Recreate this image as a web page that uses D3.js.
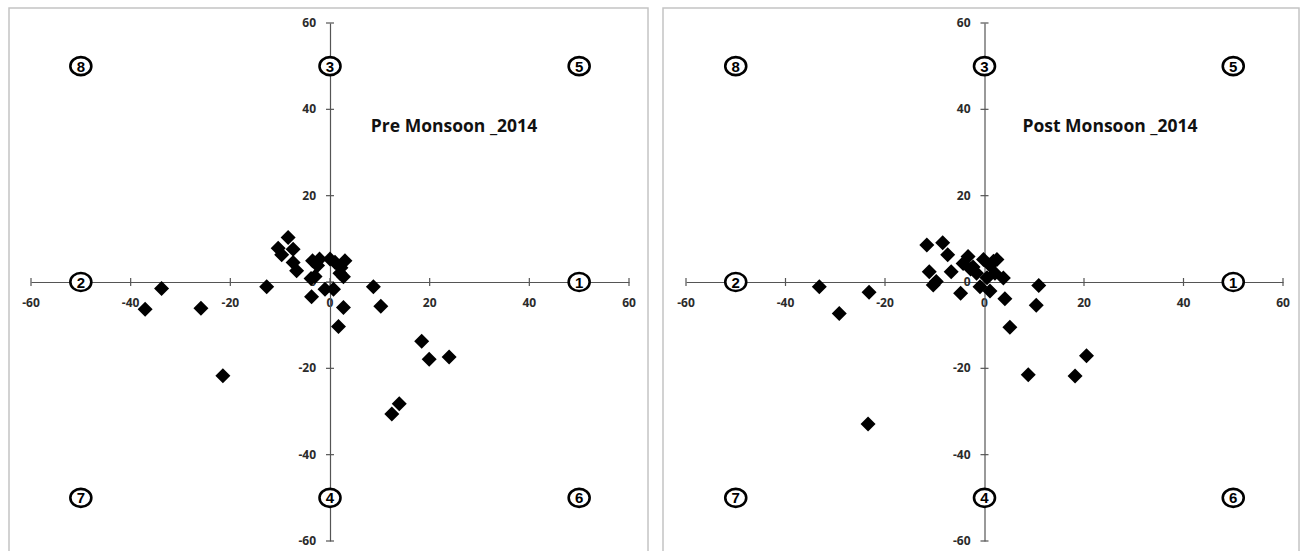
<!DOCTYPE html>
<html>
<head>
<meta charset="utf-8">
<script src="https://cdn.jsdelivr.net/npm/d3@7"></script>
<style>
  html, body { margin: 0; padding: 0; background: #fff; }
  svg { display: block; }
  .tick-label { font-family: "Open Sans", "Liberation Sans", sans-serif; font-weight: 700; font-size: 12px; fill: #2b2b2b; }
  .title { font-family: "Open Sans", "Liberation Sans", sans-serif; font-weight: 700; font-size: 17.5px; fill: #111; }
  .zone { font-family: "Liberation Sans", Arial, sans-serif; font-weight: 700; font-size: 15px; fill: #000; }
</style>
</head>
<body>
<svg id="chart" width="1301" height="551"></svg>
<script>
// Axis ticks shared by both panels
const tickValues = [-60, -40, -20, 0, 20, 40, 60];

// Zone markers: number and its (x, y) position in data units
const zoneIds = [1, 2, 3, 4, 5, 6, 7, 8];
const zoneX   = [50, -50, 0, 0, 50, 50, -50, -50];
const zoneY   = [0, 0, 50, -50, 50, -50, -50, 50];

// Pre monsoon 2014 points
const preX = [-8.4, -10.4, -7.4, -9.7, -7.4, -6.7, -3.5, -2.1, -2.5, -3.0, -3.8, 0.0, 1.0, 3.0, 2.2, 2.0, 2.7,
              -12.7, -3.7, -1.0, 0.7, 2.7, 1.7, 8.7, 10.2, 18.4, 19.9, 23.9, 13.9, 12.4, -33.8, -37.1, -25.9, -21.5];
const preY = [10.3, 7.8, 7.6, 6.3, 4.5, 2.6, 4.9, 5.3, 3.8, 1.3, 0.8, 5.3, 4.6, 4.9, 3.3, 2.0, 1.2,
              -1.1, -3.4, -1.7, -1.7, -5.9, -10.3, -1.1, -5.6, -13.7, -17.9, -17.4, -28.2, -30.6, -1.5, -6.3, -6.1, -21.7];

// Post monsoon 2014 points
const postX = [-11.6, -8.4, -7.4, -11.1, -9.7, -10.3, -6.7, -3.3, -4.3, -2.3, -1.6, -0.2, 2.5, 1.1, 2.1, 3.8,
               -0.9, 1.1, -4.8, 4.1, 5.1, 10.9, 10.4, 20.5, 18.2, 8.8, -33.2, -23.2, -29.2, -23.4, -2.8, 1.8, 0.5];
const postY = [8.6, 9.1, 6.3, 2.4, 0.1, -0.7, 2.4, 5.9, 4.3, 3.5, 2.0, 5.2, 5.2, 3.9, 2.0, 0.9,
               -1.1, -2.1, -2.6, -3.9, -10.5, -0.8, -5.4, -17.1, -21.8, -21.5, -1.1, -2.4, -7.3, -32.9, 3.0, 4.8, 1.0];

const panels = [
  { title: "Pre Monsoon _2014",  xs: preX,  ys: preY,  frame: [9, 8, 639, 560],  xRange: [31, 629],  titleX: 454 },
  { title: "Post Monsoon _2014", xs: postX, ys: postY, frame: [663, 8, 636, 560], xRange: [686, 1283], titleX: 1110 }
];

const svg = d3.select("#chart");
const y = d3.scaleLinear().domain([-60, 60]).range([541, 23]);

panels.forEach(p => {
  const x = d3.scaleLinear().domain([-60, 60]).range(p.xRange);
  const g = svg.append("g");

  g.append("rect")
    .attr("x", p.frame[0]).attr("y", p.frame[1])
    .attr("width", p.frame[2]).attr("height", p.frame[3])
    .attr("fill", "none").attr("stroke", "#c4c4c4").attr("stroke-width", 1.5);

  const x0 = x(0), y0 = y(0);

  // Horizontal axis through y = 0
  const xAxis = g.append("g").attr("transform", `translate(0,${y0})`)
    .call(d3.axisBottom(x).tickValues(tickValues).tickSize(0).tickFormat(""));
  xAxis.select(".domain").attr("stroke", "#555").attr("stroke-width", 1.2);
  g.selectAll(null).data(tickValues).join("line")
    .attr("x1", d => x(d)).attr("x2", d => x(d))
    .attr("y1", y0 - 4).attr("y2", y0 + 4)
    .attr("stroke", "#555").attr("stroke-width", 1.2);
  g.selectAll(null).data(tickValues).join("text")
    .attr("class", "tick-label")
    .attr("x", d => x(d)).attr("y", y0 + 25)
    .attr("text-anchor", "middle")
    .text(d => d);

  // Vertical axis through x = 0
  const yAxis = g.append("g").attr("transform", `translate(${x0},0)`)
    .call(d3.axisLeft(y).tickValues(tickValues).tickSize(0).tickFormat(""));
  yAxis.select(".domain").attr("stroke", "#555").attr("stroke-width", 1.2);
  g.selectAll(null).data(tickValues).join("line")
    .attr("x1", x0 - 4).attr("x2", x0 + 4)
    .attr("y1", d => y(d)).attr("y2", d => y(d))
    .attr("stroke", "#555").attr("stroke-width", 1.2);
  g.selectAll(null).data(tickValues).join("text")
    .attr("class", "tick-label")
    .attr("x", x0 - 14).attr("y", d => y(d) + 4)
    .attr("text-anchor", "end")
    .text(d => d);

  // Circled zone numbers
  const zones = g.selectAll(null).data(zoneIds).join("g")
    .attr("transform", (d, i) => `translate(${x(zoneX[i])},${y(zoneY[i])})`);
  zones.append("ellipse").attr("rx", 10.5).attr("ry", 9)
    .attr("fill", "#fff").attr("stroke", "#000").attr("stroke-width", 2.6);
  zones.append("text").attr("class", "zone")
    .attr("text-anchor", "middle").attr("y", 5.5)
    .text(d => d);

  // Title
  g.append("text").attr("class", "title")
    .attr("x", p.titleX).attr("y", 132)
    .attr("text-anchor", "middle")
    .text(p.title);

  // Diamond markers
  const r = 7.5;
  g.selectAll(null).data(p.xs).join("path")
    .attr("d", (d, i) => {
      const cx = x(d), cy = y(p.ys[i]);
      return `M${cx},${cy - r}L${cx + r},${cy}L${cx},${cy + r}L${cx - r},${cy}Z`;
    })
    .attr("fill", "#000");
});
</script>
</body>
</html>
